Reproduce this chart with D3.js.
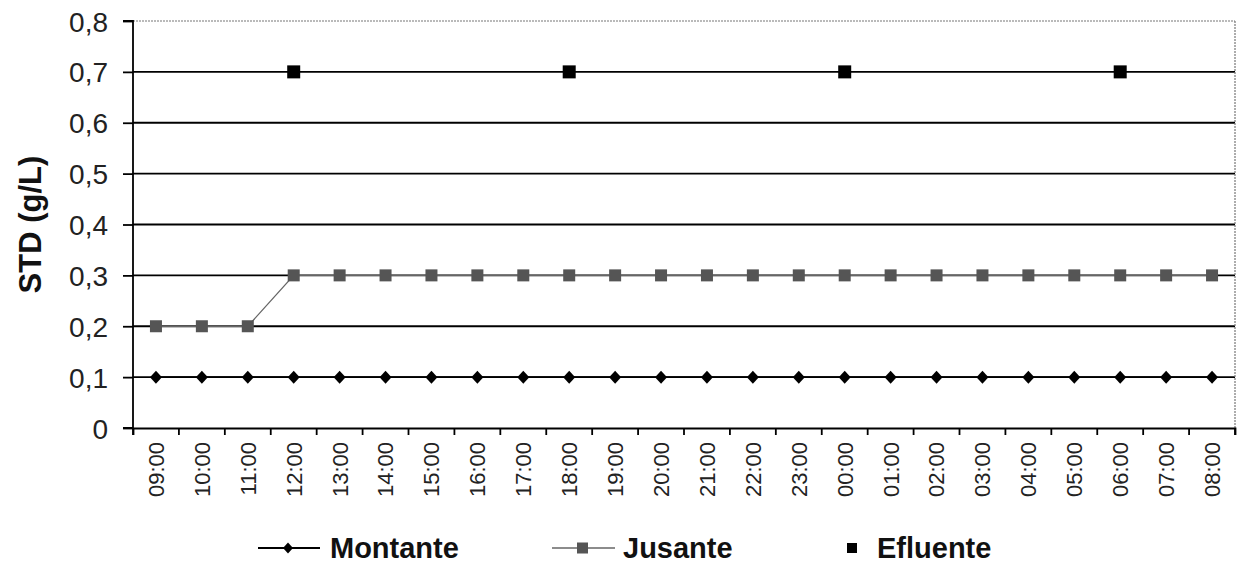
<!DOCTYPE html>
<html><head><meta charset="utf-8">
<script src="https://cdn.jsdelivr.net/npm/d3@7"></script>
<style>body{margin:0;background:#fff}svg{display:block}</style>
</head><body>
<svg id="c" width="1238" height="569"></svg>
<script>
const categories = ["09:00","10:00","11:00","12:00","13:00","14:00","15:00","16:00","17:00","18:00","19:00","20:00","21:00","22:00","23:00","00:00","01:00","02:00","03:00","04:00","05:00","06:00","07:00","08:00"];
const montante = [0.1,0.1,0.1,0.1,0.1,0.1,0.1,0.1,0.1,0.1,0.1,0.1,0.1,0.1,0.1,0.1,0.1,0.1,0.1,0.1,0.1,0.1,0.1,0.1];
const jusante = [0.2,0.2,0.2,0.3,0.3,0.3,0.3,0.3,0.3,0.3,0.3,0.3,0.3,0.3,0.3,0.3,0.3,0.3,0.3,0.3,0.3,0.3,0.3,0.3];
const efluente = [null,null,null,0.7,null,null,null,null,null,0.7,null,null,null,null,null,0.7,null,null,null,null,null,0.7,null,null];
const yTicks = [0,0.1,0.2,0.3,0.4,0.5,0.6,0.7,0.8];
const yTickLabels = ["0","0,1","0,2","0,3","0,4","0,5","0,6","0,7","0,8"];
const yLabel = "STD (g/L)";
const seriesNames = ["Montante","Jusante","Efluente"];

const FONT = "Liberation Sans, Arial, sans-serif";
const svg = d3.select("#c");
const L = 133, R = 1235, T = 21, B = 428;
const x = d3.scaleBand().domain(categories).range([L, R]);
const y = d3.scaleLinear().domain([0, 0.8]).range([B, T]);
const cx = c => x(c) + x.bandwidth() / 2;
const diamondPath = (w, h) => `M0,${-h}L${w},0L0,${h}L${-w},0Z`;

// gridlines
svg.append("g").selectAll("line").data(yTicks.filter(v => v > 0 && v < 0.8)).join("line")
  .attr("x1", L).attr("x2", R).attr("y1", d => y(d)).attr("y2", d => y(d))
  .attr("stroke", "#000").attr("stroke-width", 1.8);
// plot border top/right dotted
svg.append("line").attr("x1", L).attr("x2", R).attr("y1", y(0.8)).attr("y2", y(0.8))
  .attr("stroke", "#777").attr("stroke-width", 1.2).attr("stroke-dasharray", "2,1");
svg.append("line").attr("x1", R).attr("x2", R).attr("y1", T).attr("y2", B)
  .attr("stroke", "#777").attr("stroke-width", 1.2).attr("stroke-dasharray", "2,1");

// y axis
const yAxis = d3.axisLeft(y).tickValues(yTicks).tickFormat((d, i) => yTickLabels[i]).tickSize(10).tickPadding(15);
const gy = svg.append("g").attr("transform", `translate(${L},0)`).call(yAxis);
gy.select(".domain").attr("stroke", "#000").attr("stroke-width", 1.8).attr("d", `M-10,${T}H0V${B}H-10`);
gy.selectAll(".tick line").attr("stroke", "#000").attr("stroke-width", 1.8);
gy.selectAll(".tick text").attr("font-family", FONT).attr("font-size", 28).attr("fill", "#222").attr("dy", "0.36em");

// x axis
const xAxis = d3.axisBottom(x).tickSize(7).tickSizeOuter(7);
const gx = svg.append("g").attr("transform", `translate(0,${B})`).call(xAxis);
gx.select(".domain").attr("stroke", "#000").attr("stroke-width", 1.8);
gx.selectAll(".tick line").remove();
gx.append("g").selectAll("line").data(d3.range(categories.length + 1)).join("line")
  .attr("x1", i => L + i * x.step()).attr("x2", i => L + i * x.step())
  .attr("y1", 0).attr("y2", 7).attr("stroke", "#000").attr("stroke-width", 1.8);
gx.selectAll(".tick text")
  .attr("font-family", FONT).attr("font-size", 22).attr("fill", "#222")
  .attr("transform", "rotate(-90)").attr("text-anchor", "end").attr("dy", "0.36em")
  .attr("x", -14).attr("y", 0);

// y label
svg.append("text").attr("transform", `translate(41,${(T + B) / 2}) rotate(-90)`)
  .attr("text-anchor", "middle").attr("font-family", FONT)
  .attr("font-weight", "bold").attr("font-size", 31).attr("fill", "#111").text(yLabel);

const line = d3.line().x(d => cx(d.c)).y(d => y(d.v));
// montante
const mData = categories.map((c, i) => ({c, v: montante[i]}));
svg.append("path").attr("d", line(mData)).attr("fill", "none").attr("stroke", "#000").attr("stroke-width", 1.8);
svg.append("g").selectAll("path").data(mData).join("path")
  .attr("d", diamondPath(6, 6.5)).attr("transform", d => `translate(${cx(d.c)},${y(d.v)})`).attr("fill", "#000");
// jusante
const jData = categories.map((c, i) => ({c, v: jusante[i]}));
svg.append("path").attr("d", line(jData)).attr("fill", "none").attr("stroke", "#666").attr("stroke-width", 1.3);
svg.append("g").selectAll("rect").data(jData).join("rect")
  .attr("x", d => cx(d.c) - 6).attr("y", d => y(d.v) - 6).attr("width", 12).attr("height", 12).attr("fill", "#555");
// efluente
const eData = categories.map((c, i) => ({c, v: efluente[i]})).filter(d => d.v != null);
svg.append("g").selectAll("rect").data(eData).join("rect")
  .attr("x", d => cx(d.c) - 6.5).attr("y", d => y(d.v) - 6.5).attr("width", 13).attr("height", 13).attr("fill", "#000");

// legend
const lg = svg.append("g").attr("font-family", FONT).attr("font-weight", "bold").attr("font-size", 29).attr("fill", "#111");
const ly = 548, tb = 558;
lg.append("line").attr("x1", 258).attr("x2", 320).attr("y1", ly).attr("y2", ly).attr("stroke", "#000").attr("stroke-width", 1.8);
lg.append("path").attr("d", diamondPath(5, 5.5)).attr("transform", `translate(288,${ly})`).attr("fill", "#000");
lg.append("text").attr("x", 330).attr("y", tb).text(seriesNames[0]);
lg.append("line").attr("x1", 552).attr("x2", 615).attr("y1", ly).attr("y2", ly).attr("stroke", "#666").attr("stroke-width", 1.3);
lg.append("rect").attr("x", 577).attr("y", ly - 5.5).attr("width", 11).attr("height", 11).attr("fill", "#555");
lg.append("text").attr("x", 623).attr("y", tb).text(seriesNames[1]);
lg.append("rect").attr("x", 847).attr("y", ly - 5).attr("width", 10).attr("height", 10).attr("fill", "#000");
lg.append("text").attr("x", 877).attr("y", tb).text(seriesNames[2]);
</script>
</body></html>
